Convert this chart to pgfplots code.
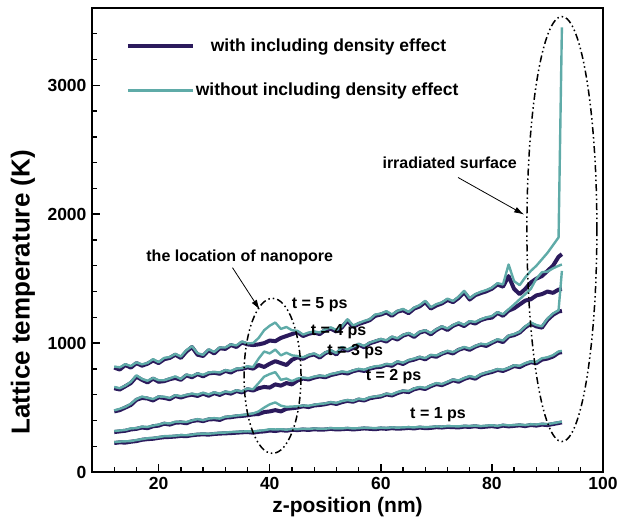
\documentclass[border=0pt]{standalone}
\usepackage{fontspec}
\setmainfont{Liberation Sans}
\usepackage{pgfplots}
\usepackage{pgfplotstable}
\usetikzlibrary{arrows.meta}
\pgfplotsset{compat=1.18}
\definecolor{darkc}{HTML}{2B1A5C}
\definecolor{tealc}{HTML}{5FABA8}
\pgfplotstableread{
x d1 w1 d2 w2 d3 w3 d4 w4 d5 w5
12 225 232 310 318 470 478 650 660 810 818
13 230 236 315 322 480 490 640 650 795 812
14 228 238 320 326 500 505 665 670 830 836
15 235 240 330 338 520 530 690 700 810 822
16 240 248 335 340 560 566 740 750 845 850
17 250 255 345 352 575 585 715 722 825 835
18 255 262 340 350 570 575 695 708 840 846
19 258 265 355 360 555 566 725 730 865 876
20 265 270 360 368 580 586 700 712 845 852
21 270 278 375 380 575 584 705 712 875 885
22 272 278 368 376 565 574 720 726 885 892
23 275 282 382 390 590 596 730 742 910 916
24 280 286 385 390 578 588 715 722 885 896
25 278 285 378 388 592 598 750 756 935 945
26 285 290 395 400 600 608 735 746 970 976
27 290 296 402 410 590 600 760 765 910 922
28 292 298 395 402 608 615 742 754 900 908
29 290 297 408 414 592 602 765 772 945 952
30 295 300 410 418 612 618 770 776 920 932
31 298 305 404 414 598 608 762 772 960 966
32 300 306 422 428 618 624 785 790 955 966
33 302 310 425 432 608 618 772 784 985 990
34 305 312 432 438 628 634 795 802 970 982
35 308 314 435 442 618 626 800 806 1005 1012
36 310 316 440 448 642 648 812 820 990 998
37 305 314 447 454 632 642 802 814 985 1000
38 312 320 450 470 650 690 830 880 990 1040
39 315 324 465 500 660 740 815 935 1000 1100
40 322 332 470 525 655 760 840 920 1020 1135
41 318 330 480 540 680 775 860 950 1015 1160
42 325 332 470 515 670 715 845 905 1040 1110
43 320 328 490 505 690 725 830 925 1055 1125
44 328 334 495 508 680 705 870 905 1070 1100
45 325 332 500 510 710 725 890 900 1085 1095
46 330 336 510 516 725 732 878 890 1055 1066
47 326 334 504 514 718 728 902 908 1072 1082
48 332 338 516 522 732 740 912 920 1082 1090
49 328 336 520 528 742 748 888 898 1070 1082
50 330 336 526 532 735 744 922 928 1102 1108
51 335 340 536 542 752 760 938 944 1112 1122
52 330 338 528 536 762 768 912 922 1090 1102
53 332 338 542 550 772 780 962 970 1122 1130
54 335 342 552 558 764 774 942 950 1175 1185
55 330 338 545 552 782 788 962 972 1125 1136
56 334 340 562 568 792 800 988 994 1148 1155
57 338 344 555 562 784 794 968 978 1162 1172
58 335 342 572 580 802 808 998 1004 1178 1185
59 332 340 580 586 812 820 1012 1018 1212 1222
60 338 344 586 592 816 824 1026 1032 1222 1228
61 335 342 602 608 832 838 1012 1022 1238 1248
62 340 346 594 602 824 834 1044 1050 1212 1222
63 336 344 612 620 852 858 1028 1038 1244 1250
64 338 346 626 632 838 848 1058 1064 1255 1265
65 342 348 620 628 862 868 1072 1078 1232 1242
66 338 346 642 648 872 880 1048 1058 1268 1275
67 345 350 652 660 888 892 1082 1088 1285 1295
68 340 348 644 652 874 884 1094 1100 1318 1328
69 342 350 666 672 902 908 1068 1078 1268 1278
70 348 354 682 690 894 904 1102 1108 1292 1302
71 345 352 674 682 918 922 1124 1130 1308 1316
72 350 356 692 700 932 940 1102 1114 1335 1345
73 348 355 712 718 920 930 1134 1140 1318 1326
74 346 354 700 710 948 952 1152 1160 1350 1360
75 352 358 722 728 962 970 1132 1142 1395 1405
76 350 357 736 744 948 958 1164 1170 1338 1348
77 355 360 724 734 972 978 1152 1164 1372 1380
78 348 356 752 758 988 994 1178 1184 1388 1398
79 352 360 766 772 978 990 1192 1200 1402 1412
80 356 362 776 784 1002 1008 1198 1210 1422 1430
81 350 358 792 798 1022 1030 1234 1240 1455 1465
82 360 366 784 794 1008 1020 1212 1224 1438 1455
83 354 362 802 808 1052 1058 1252 1262 1520 1610
84 358 364 822 828 1062 1070 1270 1300 1420 1480
85 362 368 814 824 1082 1088 1300 1340 1380 1450
86 356 364 836 844 1122 1130 1330 1380 1420 1510
87 365 370 852 858 1150 1160 1340 1420 1470 1560
88 360 368 844 854 1130 1140 1370 1500 1500 1600
89 368 374 872 882 1120 1130 1380 1550 1520 1650
90 364 372 880 890 1180 1190 1400 1555 1560 1700
91 372 378 896 906 1220 1230 1390 1580 1600 1760
92 380 386 925 935 1245 1255 1415 1600 1670 1820
92.6 385 390 930 940 1250 1560 1420 1610 1690 3450
}\datatable
\begin{document}
\begin{tikzpicture}
\begin{axis}[name=ax,
  scale only axis, width=511pt, height=464pt,
  xmin=8, xmax=100, ymin=0, ymax=3600,
  xtick={20,40,60,80,100}, ytick={0,1000,2000,3000},
  xtick pos=bottom, ytick pos=left,
  xtick style={draw=none}, ytick style={draw=none},
  axis line style={line width=1.8pt},
  /pgf/number format/assume math mode=true,
  /pgf/number format/1000 sep={},
  ticklabel style={font=\fontsize{17.5}{17.5}\selectfont\bfseries},
  xticklabel style={yshift=-2pt},
  yticklabel style={xshift=-2pt},
  xlabel={z-position (nm)}, ylabel={Lattice temperature (K)},
  xlabel style={font=\fontsize{21}{21}\selectfont\bfseries, at={(axis description cs:0.5,-0.0754)}, anchor=center},
  ylabel style={font=\fontsize{26}{26}\selectfont\bfseries, at={(axis description cs:-0.135,0.387)}, anchor=center},
  legend style={at={(0.06,0.94)}, anchor=north west, draw=none, fill=none,
    font=\fontsize{17.5}{17.5}\selectfont\bfseries, row sep=28pt,
    nodes={inner sep=1pt}},
  legend cell align=left,
  legend image code/.code={\draw[#1] (0pt,0pt) -- (65pt,0pt);},
]
\addplot[darkc, line width=4pt, line join=round] table[x=x,y=d5]{\datatable};
\addlegendentry{\hspace*{15pt}with including density effect}
\addplot[tealc, line width=2.4pt, line join=round] table[x=x,y=w5]{\datatable};
\addlegendentry{without including density effect}
\addplot[darkc, line width=4pt, line join=round, forget plot] table[x=x,y=d4]{\datatable};
\addplot[tealc, line width=2.4pt, line join=round, forget plot] table[x=x,y=w4]{\datatable};
\addplot[darkc, line width=4pt, line join=round, forget plot] table[x=x,y=d3]{\datatable};
\addplot[tealc, line width=2.4pt, line join=round, forget plot] table[x=x,y=w3]{\datatable};
\addplot[darkc, line width=4pt, line join=round, forget plot] table[x=x,y=d2]{\datatable};
\addplot[tealc, line width=2.4pt, line join=round, forget plot] table[x=x,y=w2]{\datatable};
\addplot[darkc, line width=4pt, line join=round, forget plot] table[x=x,y=d1]{\datatable};
\addplot[tealc, line width=2.4pt, line join=round, forget plot] table[x=x,y=w1]{\datatable};
% inward ticks
\pgfplotsinvokeforeach{20,40,60,80}{\draw[line width=1.5pt] (axis cs:#1,0) -- ++(0pt,8pt);}
\pgfplotsinvokeforeach{12,16,24,28,32,36,44,48,52,56,64,68,72,76,84,88,92,96}{\draw[line width=1.3pt] (axis cs:#1,0) -- ++(0pt,5pt);}
\pgfplotsinvokeforeach{1000,2000,3000}{\draw[line width=1.5pt] (axis cs:8,#1) -- ++(8pt,0pt);}
\pgfplotsinvokeforeach{200,400,600,800,1200,1400,1600,1800,2200,2400,2600,2800,3200,3400}{\draw[line width=1.3pt] (axis cs:8,#1) -- ++(5pt,0pt);}
% annotations
\tikzset{dd/.style={line width=1.5pt, dash pattern=on 7pt off 3pt on 1.5pt off 3pt on 1.5pt off 3pt}}
\draw[dd] (axis cs:40.5,746) ellipse [x radius=28.5pt, y radius=77.5pt];
\draw[dd] (axis cs:92.6,1885) ellipse [x radius=35pt, y radius=212.5pt];
\node[font=\fontsize{16}{16}\selectfont\bfseries] at (axis cs:34.6,1663) {the location of nanopore};
\node[font=\fontsize{16}{16}\selectfont\bfseries] at (axis cs:72.4,2402) {irradiated surface};
\draw[-{Latex[length=10pt,width=6pt]}, line width=0.8pt] (axis cs:33.3,1585) -- (axis cs:38.2,1259);
\draw[-{Latex[length=10pt,width=6pt]}, line width=0.8pt] (axis cs:73.9,2285) -- (axis cs:85.8,1997);
\node[font=\fontsize{16}{16}\selectfont\bfseries] at (axis cs:49.0,1298) {t = 5 ps};
\node[font=\fontsize{16}{16}\selectfont\bfseries] at (axis cs:52.4,1088) {t = 4 ps};
\node[font=\fontsize{16}{16}\selectfont\bfseries] at (axis cs:55.4,933) {t = 3 ps};
\node[font=\fontsize{16}{16}\selectfont\bfseries] at (axis cs:62.3,739) {t = 2 ps};
\node[font=\fontsize{16}{16}\selectfont\bfseries] at (axis cs:70.3,443) {t = 1 ps};
\end{axis}
\pgfresetboundingbox
\path[use as bounding box] (ax.south west) ++(-92pt,-55pt) rectangle ([xshift=15pt,yshift=8pt]ax.north east);
\end{tikzpicture}
\end{document}
